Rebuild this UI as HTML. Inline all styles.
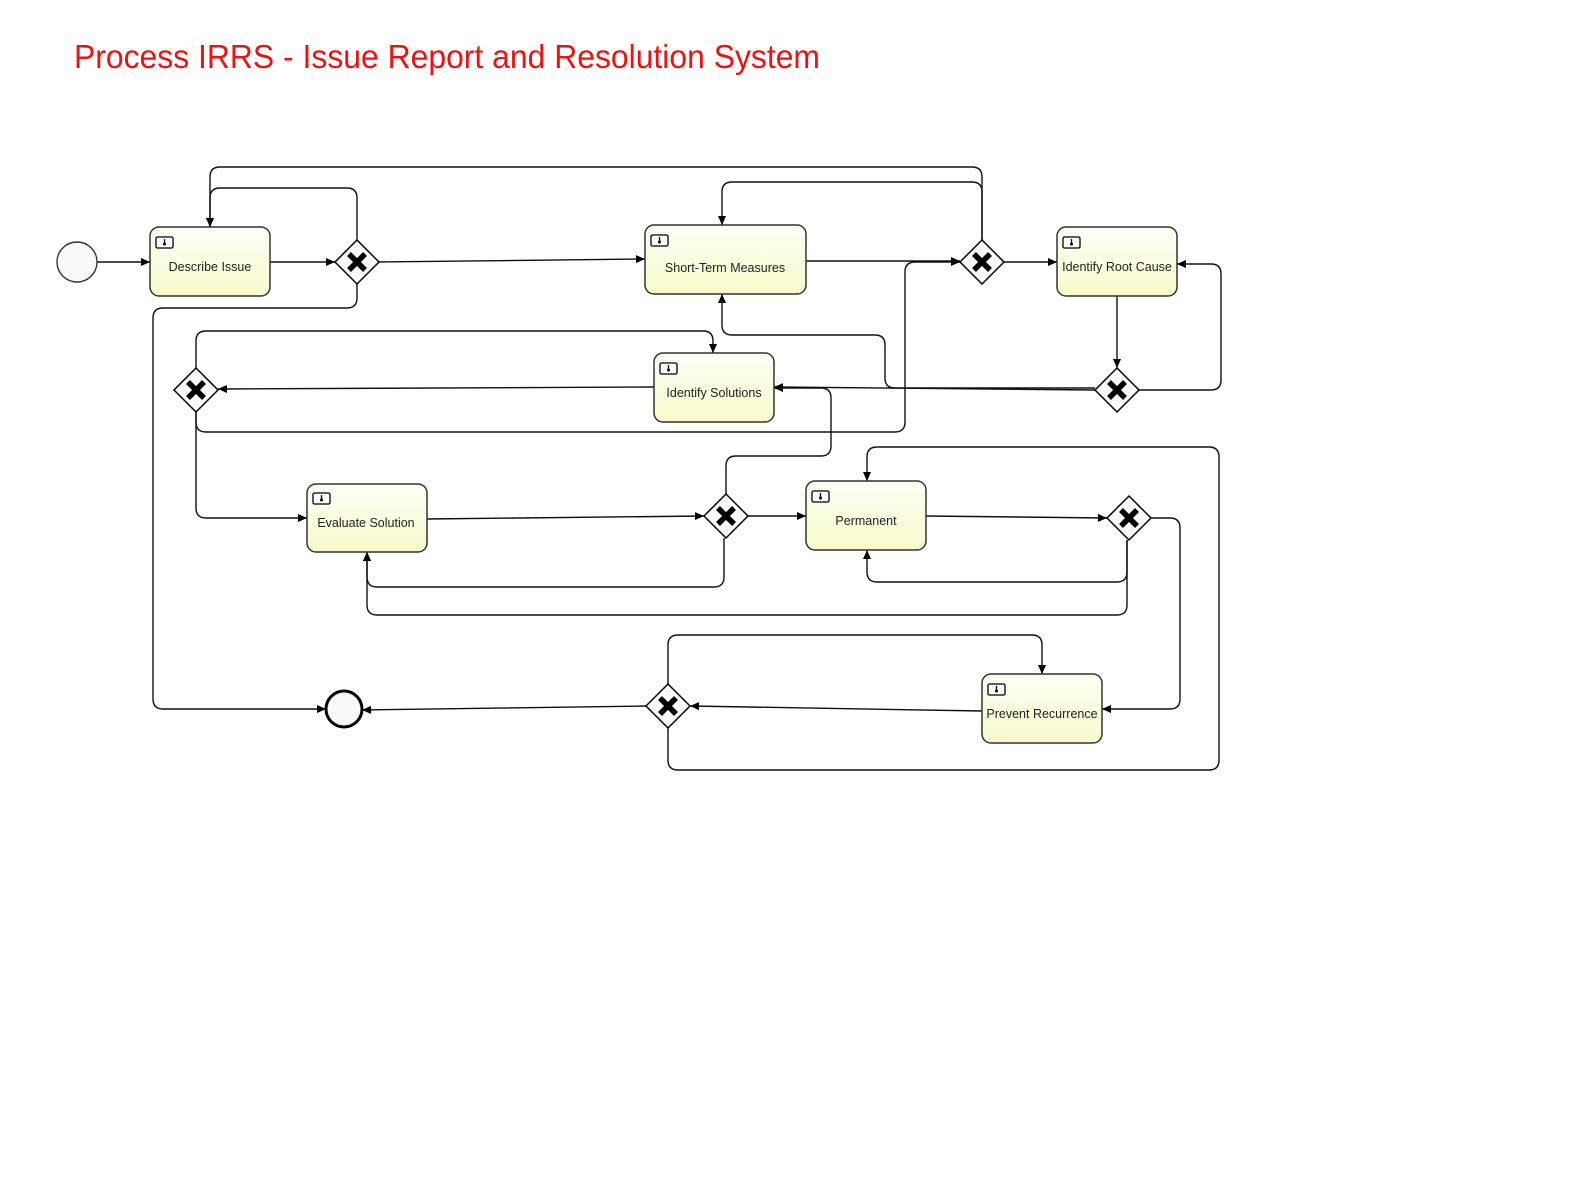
<!DOCTYPE html>
<html><head><meta charset="utf-8"><style>
html,body{margin:0;padding:0;background:#fff;width:1586px;height:1190px;overflow:hidden}
svg{display:block}
</style></head><body>
<svg width="1586" height="1190" xmlns="http://www.w3.org/2000/svg">
<defs>
<marker id="a" markerUnits="userSpaceOnUse" markerWidth="10" markerHeight="10" refX="9" refY="4" orient="auto"><path d="M0,0 L9,4 L0,8 Z" fill="#000"/></marker>
<linearGradient id="g" x1="0" y1="0" x2="0" y2="1"><stop offset="0" stop-color="#fdfdf6"/><stop offset="1" stop-color="#fafacb"/></linearGradient>
<g id="ic"><rect x="0" y="0" width="17" height="11" rx="1.5" fill="#fff" stroke="#000" stroke-width="1.3"/><line x1="8.5" y1="2" x2="8.5" y2="8" stroke="#000" stroke-width="1.3"/><circle cx="8.5" cy="7" r="1.5" fill="#000"/></g>
<g id="gw"><path d="M0,-22 L22,0 L0,22 L-22,0 Z" fill="#f8f9fb" stroke="#000" stroke-width="1.5"/><path d="M-8,-8 L8,8 M8,-8 L-8,8" stroke="#000" stroke-width="5.5"/></g>
</defs>
<text x="74" y="68" font-family="Liberation Sans, sans-serif" font-size="33" fill="#ee1111" textLength="746" lengthAdjust="spacingAndGlyphs">Process IRRS - Issue Report and Resolution System</text>
<g fill="none" stroke="#111" stroke-width="1.4" marker-end="url(#a)">
<path d="M97,262 H150"/>
<path d="M270,262 H335"/>
<path d="M379,262 L645,259"/>
<path d="M806,261 H960"/>
<path d="M1004,262 H1057"/>
<path d="M1117,296 V368"/>
<path d="M357,240 V198 Q357,188 347,188 H220 Q210,188 210,198 V227"/>
<path d="M982,240 V177 Q982,167 972,167 H220 Q210,167 210,177 V227"/>
<path d="M982,240 V192 Q982,182 972,182 H732 Q722,182 722,192 V225"/>
<path d="M357,284 V298 Q357,308 347,308 H163 Q153,308 153,318 V699 Q153,709 163,709 H326"/>
<path d="M1139,390 H1211 Q1221,390 1221,380 V274 Q1221,264 1211,264 H1177"/>
<path d="M1095,388 H895 Q885,388 885,378 V345 Q885,335 875,335 H732 Q722,335 722,325 V294"/>
<path d="M1095,390 L774,387"/>
<path d="M654,387 L218,389"/>
<path d="M196,368 V341 Q196,331 206,331 H703 Q713,331 713,341 V353"/>
<path d="M196,412 V422 Q196,432 206,432 H895 Q905,432 905,422 V272 Q905,262 915,262 H960"/>
<path d="M196,412 V508 Q196,518 206,518 H307"/>
<path d="M427,519 L704,516"/>
<path d="M726,494 V466 Q726,456 736,456 H821 Q831,456 831,446 V398 Q831,388 821,388 H774"/>
<path d="M724,538 V577 Q724,587 714,587 H377 Q367,587 367,577 V552"/>
<path d="M748,516 H806"/>
<path d="M926,516 L1107,518"/>
<path d="M1127,540 V572 Q1127,582 1117,582 H877 Q867,582 867,572 V550"/>
<path d="M1127,540 V605 Q1127,615 1117,615 H377 Q367,615 367,605 V552"/>
<path d="M1151,518 H1170 Q1180,518 1180,528 V699 Q1180,709 1170,709 H1102"/>
<path d="M982,711 L690,706"/>
<path d="M668,684 V645 Q668,635 678,635 H1032 Q1042,635 1042,645 V674"/>
<path d="M668,728 V760 Q668,770 678,770 H1209 Q1219,770 1219,760 V457 Q1219,447 1209,447 H877 Q867,447 867,457 V481"/>
<path d="M646,706 L362,710"/>
</g>
<circle cx="77" cy="262" r="20" fill="#f8f9fb" stroke="#333" stroke-width="1.4"/>
<circle cx="344" cy="709" r="18" fill="#f8f9fb" stroke="#000" stroke-width="3"/>
<g stroke="#333" stroke-width="1.5" fill="url(#g)">
<rect x="150" y="227" width="120" height="69" rx="9"/>
<rect x="645" y="225" width="161" height="69" rx="9"/>
<rect x="1057" y="227" width="120" height="69" rx="9"/>
<rect x="654" y="353" width="120" height="69" rx="9"/>
<rect x="307" y="484" width="120" height="68" rx="9"/>
<rect x="806" y="481" width="120" height="69" rx="9"/>
<rect x="982" y="674" width="120" height="69" rx="9"/>
</g>
<use href="#ic" x="156" y="237"/><use href="#ic" x="651" y="235"/><use href="#ic" x="1063" y="237"/>
<use href="#ic" x="660" y="363"/><use href="#ic" x="313" y="493"/><use href="#ic" x="812" y="491"/><use href="#ic" x="988" y="684"/>
<g font-family="Liberation Sans, sans-serif" font-size="12.5" fill="#222" text-anchor="middle">
<text x="210" y="271">Describe Issue</text>
<text x="725" y="272">Short-Term Measures</text>
<text x="1117" y="271">Identify Root Cause</text>
<text x="714" y="397">Identify Solutions</text>
<text x="366" y="527">Evaluate Solution</text>
<text x="866" y="525">Permanent</text>
<text x="1042" y="718">Prevent Recurrence</text>
</g>
<use href="#gw" x="357" y="262"/><use href="#gw" x="982" y="262"/><use href="#gw" x="1117" y="390"/>
<use href="#gw" x="196" y="390"/><use href="#gw" x="726" y="516"/><use href="#gw" x="1129" y="518"/><use href="#gw" x="668" y="706"/>
</svg>
</body></html>
